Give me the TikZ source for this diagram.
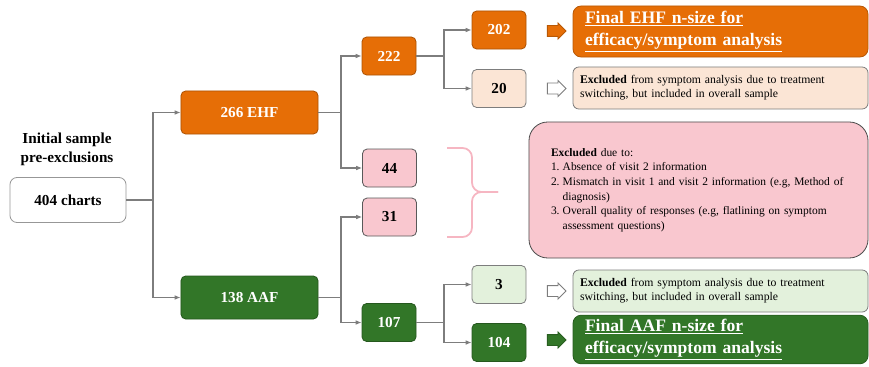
\documentclass[tikz,border=0pt]{standalone}
\usepackage{fontspec}
\setmainfont{Liberation Serif}
\usetikzlibrary{shapes.arrows, positioning, arrows.meta}

\definecolor{ehforange}{RGB}{230,110,6}
\definecolor{ehfpeach}{RGB}{251,229,213}
\definecolor{aafgreen}{RGB}{50,118,40}
\definecolor{aaflight}{RGB}{227,241,220}
\definecolor{exclpink}{RGB}{249,199,207}
\definecolor{bracepink}{RGB}{246,182,194}
\definecolor{linegrey}{RGB}{125,125,125}

\begin{document}
\begin{tikzpicture}[x=0.03cm, y=-0.03cm,
    count_box/.style={rectangle, draw=linegrey, line width=0.7pt, rounded corners=4pt, minimum width=1.62cm, minimum height=1.14cm, inner sep=0pt, font=\fontsize{13}{15}\selectfont\bfseries},
    wide_box/.style={count_box, minimum width=4.11cm, minimum height=1.29cm},
    ehf_box/.style={fill=ehforange, draw=ehforange!75!black, text=white},
    aaf_box/.style={fill=aafgreen, draw=aafgreen!75!black, text=white},
    note_box/.style={rectangle, draw=linegrey, line width=0.7pt, rounded corners=5pt, minimum width=8.85cm, minimum height=1.26cm, inner xsep=0.21cm, text width=8.43cm, align=left, font=\fontsize{10}{12}\selectfont},
    final_box/.style={note_box, inner xsep=0.36cm, text width=8.13cm, rounded corners=7pt, text=white, font=\fontsize{15}{19}\selectfont\bfseries},
    reason_box/.style={rectangle, fill=exclpink, draw=black!70, line width=0.7pt, rounded corners=16pt, minimum width=10.17cm, minimum height=4.08cm, inner xsep=0.66cm, text width=8.85cm, align=left, font=\fontsize{9.8}{12.5}\selectfont},
    block_arrow/.style={single arrow, draw, line width=0.7pt, minimum height=0.56cm, minimum width=0.46cm, inner sep=0pt, single arrow head extend=0.08cm},
    link/.style={draw=linegrey, line width=0.9pt, -{Latex[length=5pt, width=4pt]}},
    brace_line/.style={draw=bracepink, line width=1.5pt, rounded corners=8pt}]

    \useasboundingbox (0,0) rectangle (869,367);

    % --- Start ---
    \node[align=center, font=\fontsize{13}{16}\selectfont\bfseries] (title) at (67,149) {Initial sample\\pre-exclusions};
    \node[count_box, fill=white, draw=linegrey!80, rounded corners=6pt, minimum width=3.48cm, minimum height=1.35cm] (charts) at (68,200) {404 charts};

    % --- First split ---
    \node[wide_box, ehf_box] (ehf) at (249.5,112.5) {266 EHF};
    \node[wide_box, aaf_box] (aaf) at (249.5,297.5) {138 AAF};

    % --- Second split ---
    \node[count_box, ehf_box] (n222) at (389,56) {222};
    \node[count_box, fill=exclpink, draw=black!65] (n44) at (389.5,168) {44};
    \node[count_box, fill=exclpink, draw=black!65] (n31) at (389.5,217) {31};
    \node[count_box, aaf_box] (n107) at (389,322.5) {107};

    % --- Third split ---
    \node[count_box, ehf_box] (n202) at (499,30) {202};
    \node[count_box, fill=ehfpeach] (n20) at (499,88.5) {20};
    \node[count_box, fill=aaflight] (n3) at (499,284.5) {3};
    \node[count_box, aaf_box] (n104) at (499,342.5) {104};

    % --- Connectors ---
    \coordinate (fork0) at (153,200);
    \draw[link] (charts.east) -- (fork0) |- (ehf.west);
    \draw[link] (fork0) |- (aaf.west);

    \coordinate (fork1) at (341,112.5);
    \draw[link] (ehf.east) -- (fork1) |- (n222.west);
    \draw[link] (fork1) |- (n44.west);

    \coordinate (fork2) at (341,297.5);
    \draw[link] (aaf.east) -- (fork2) |- (n31.west);
    \draw[link] (fork2) |- (n107.west);

    \coordinate (fork3) at (444,56);
    \draw[link] (n222.east) -- (fork3) |- (n202.west);
    \draw[link] (fork3) |- (n20.west);

    \coordinate (fork4) at (444,322.5);
    \draw[link] (n107.east) -- (fork4) |- (n3.west);
    \draw[link] (fork4) |- (n104.west);

    % --- Outcomes ---
    \node[block_arrow, fill=ehforange, draw=ehforange!80!black] (a202) at (554,31) {\rule{0pt}{0.3cm}};
    \node[block_arrow, fill=white, draw=linegrey] (a20) at (554,88.5) {\rule{0pt}{0.3cm}};
    \node[block_arrow, fill=white, draw=linegrey] (a3) at (554,291) {\rule{0pt}{0.3cm}};
    \node[block_arrow, fill=aafgreen, draw=aafgreen!80!black] (a104) at (554,340) {\rule{0pt}{0.3cm}};

    \node[final_box, fill=ehforange, draw=ehforange!80!black, minimum height=1.53cm] (final_ehf) at (720.5,31.5)
        {\underline{Final EHF n-size for}\\\underline{efficacy/symptom analysis}};
    \node[note_box, fill=ehfpeach] (excl_ehf) at (720.5,88)
        {\textbf{Excluded} from symptom analysis due to treatment\\switching, but included in overall sample};
    \node[note_box, fill=aaflight] (excl_aaf) at (720.5,291)
        {\textbf{Excluded} from symptom analysis due to treatment\\switching, but included in overall sample};
    \node[final_box, fill=aafgreen, draw=aafgreen!80!black, minimum height=1.29cm] (final_aaf) at (720.5,339.5)
        {\underline{Final AAF n-size for}\\\underline{efficacy/symptom analysis}};

    % --- Exclusions ---
    \node[reason_box] (excl_main) at (698.5,190)
        {\textbf{Excluded} due to:\\
         \makebox[10pt][l]{1.}Absence of visit 2 information\\
         \makebox[10pt][l]{2.}Mismatch in visit 1 and visit 2 information (e.g, Method of\\
         \hspace*{10pt}diagnosis)\\
         \makebox[10pt][l]{3.}Overall quality of responses (e.g, flatlining on symptom\\
         \hspace*{10pt}assessment questions)};

    \coordinate (brace_top) at (447,148);
    \coordinate (brace_bot) at (447,237);
    \coordinate (brace_tip) at (498,192);
    \draw[brace_line] (brace_top) -- (472,148) -- (472,192) -- (brace_tip);
    \draw[brace_line] (brace_bot) -- (472,237) -- (472,192) -- (brace_tip);

\end{tikzpicture}
\end{document}
